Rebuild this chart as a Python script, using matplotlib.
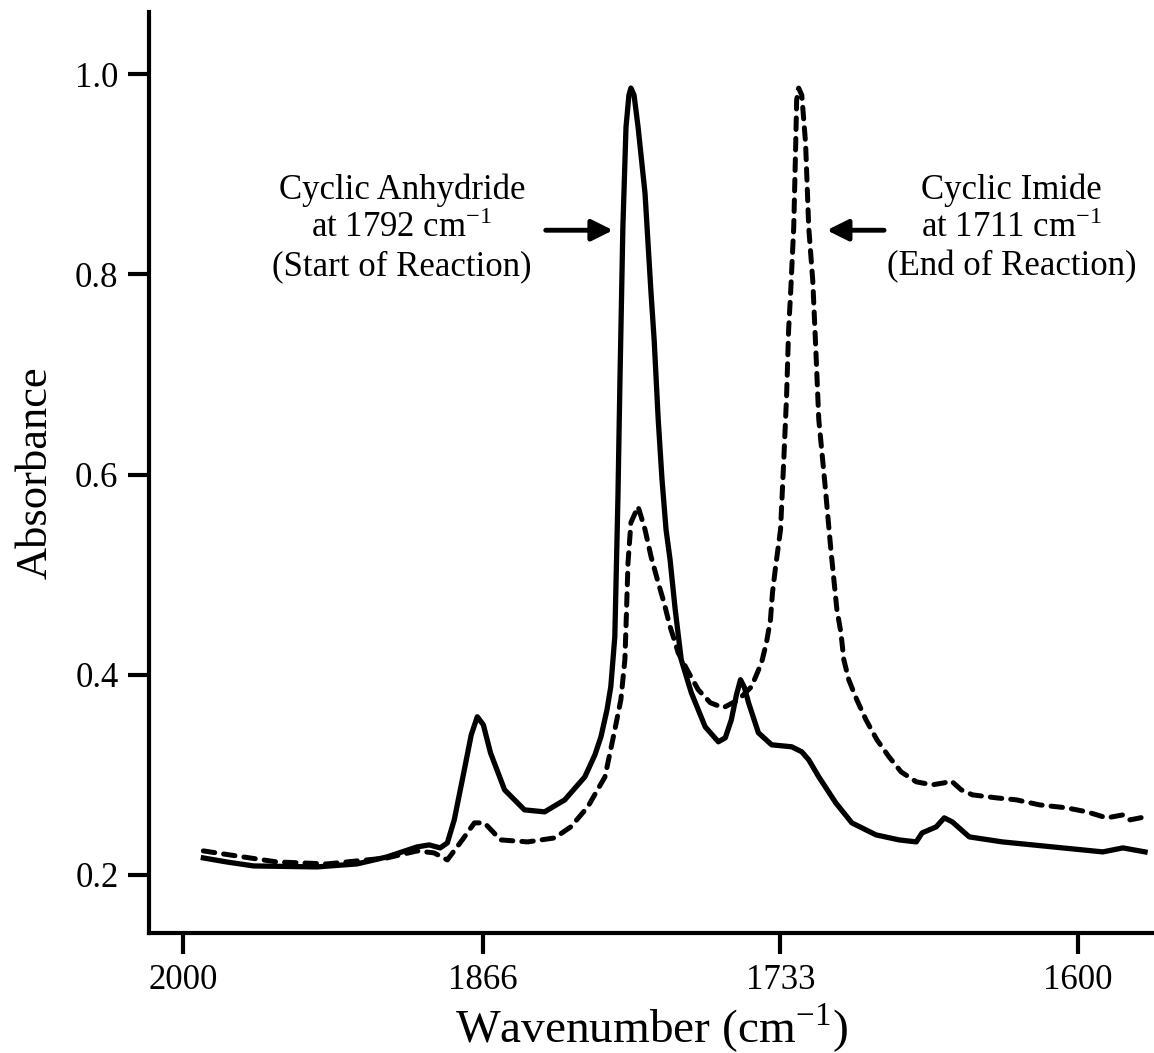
import matplotlib
matplotlib.use("Agg")
import matplotlib.pyplot as plt

plt.rcParams["font.family"] = ["Liberation Serif", "DejaVu Serif"]
plt.rcParams["mathtext.fontset"] = "stix"

# spectrum at start of reaction (solid line)
start_wn = [1991.0, 1980.7, 1968.6, 1940.3, 1922.3, 1908.9, 1895.4, 1890.0, 1885.1, 1881.9,
            1878.8, 1874.3, 1871.2, 1868.5, 1865.8, 1862.6, 1856.3, 1847.4, 1838.4, 1829.4,
            1820.4, 1815.9, 1813.2, 1810.5, 1808.8, 1807.0, 1805.6, 1804.7, 1803.4, 1802.0,
            1800.7, 1799.8, 1798.4, 1796.6, 1793.5, 1790.8, 1789.4, 1787.6, 1785.9, 1784.1,
            1782.3, 1780.0, 1777.3, 1772.8, 1766.6, 1760.7, 1757.6, 1754.9, 1752.6, 1750.8,
            1749.0, 1747.2, 1742.8, 1736.9, 1727.9, 1723.4, 1720.3, 1715.8, 1708.2, 1701.0,
            1690.2, 1679.9, 1672.2, 1669.6, 1663.3, 1659.7, 1656.1, 1648.5, 1633.7, 1611.2,
            1588.8, 1579.8, 1569.9]
start_abs = [0.217, 0.213, 0.209, 0.208, 0.211, 0.218, 0.228, 0.230, 0.227, 0.232,
             0.255, 0.305, 0.340, 0.358, 0.350, 0.322, 0.285, 0.265, 0.263, 0.275,
             0.298, 0.320, 0.338, 0.365, 0.388, 0.438, 0.578, 0.695, 0.847, 0.947,
             0.979, 0.986, 0.979, 0.947, 0.881, 0.781, 0.734, 0.655, 0.595, 0.545,
             0.515, 0.465, 0.415, 0.382, 0.348, 0.333, 0.337, 0.355, 0.380, 0.395,
             0.387, 0.372, 0.342, 0.330, 0.328, 0.323, 0.315, 0.298, 0.272, 0.252,
             0.240, 0.235, 0.233, 0.242, 0.248, 0.257, 0.253, 0.238, 0.233, 0.228,
             0.223, 0.227, 0.223]

# spectrum at end of reaction (dashed line)
end_wn = [1991.0, 1976.2, 1958.2, 1935.8, 1908.9, 1895.4, 1887.8, 1881.9, 1875.2, 1869.8,
          1865.3, 1858.1, 1846.0, 1833.9, 1826.7, 1819.1, 1811.4, 1807.0, 1804.3, 1802.5,
          1802.0, 1801.1, 1799.8, 1796.6, 1793.5, 1790.8, 1787.6, 1785.0, 1782.3, 1780.0,
          1778.7, 1774.2, 1769.7, 1764.3, 1758.5, 1751.7, 1745.9, 1741.4, 1739.2, 1737.4,
          1736.5, 1735.1, 1732.9, 1731.5, 1730.2, 1729.3, 1728.4, 1727.0, 1726.1, 1725.7,
          1724.8, 1723.4, 1721.7, 1720.3, 1718.5, 1717.2, 1715.8, 1713.1, 1710.4, 1707.7,
          1705.9, 1704.6, 1702.4, 1698.8, 1694.7, 1689.8, 1684.4, 1679.0, 1672.2, 1665.1,
          1659.7, 1656.6, 1652.1, 1647.1, 1636.4, 1627.4, 1617.1, 1604.9, 1595.9, 1587.0,
          1579.8, 1576.6, 1569.9]
end_abs = [0.224, 0.219, 0.213, 0.211, 0.217, 0.224, 0.222, 0.215, 0.235, 0.252,
           0.252, 0.235, 0.233, 0.237, 0.248, 0.268, 0.298, 0.345, 0.375, 0.415,
           0.448, 0.512, 0.552, 0.568, 0.545, 0.518, 0.492, 0.472, 0.448, 0.432,
           0.422, 0.403, 0.385, 0.372, 0.367, 0.375, 0.388, 0.412, 0.432, 0.455,
           0.482, 0.508, 0.545, 0.612, 0.678, 0.744, 0.781, 0.847, 0.931, 0.974,
           0.986, 0.979, 0.931, 0.847, 0.794, 0.729, 0.655, 0.592, 0.525, 0.465,
           0.442, 0.415, 0.395, 0.375, 0.355, 0.335, 0.318, 0.303, 0.293, 0.290,
           0.292, 0.294, 0.285, 0.280, 0.277, 0.275, 0.270, 0.267, 0.263, 0.257,
           0.260, 0.255, 0.258]

x_ticks = [2000, 1866, 1733, 1600]
y_ticks = [0.2, 0.4, 0.6, 0.8, 1.0]

fig = plt.figure(figsize=(11.54, 10.53), dpi=100)
ax = fig.add_axes([149 / 1154, 120 / 1053, 1005 / 1154, 921 / 1053])

ax.plot(start_wn, start_abs, color="black", lw=3.8, solid_joinstyle="round")
ax.plot(end_wn, end_abs, color="black", lw=3.6, linestyle=(0, (2.3, 1.8)),
        dash_capstyle="round")

ax.set_xlim(2015.3, 1565.9)
ax.set_ylim(0.142, 1.062)
ax.set_xticks(x_ticks)
ax.set_xticklabels([str(t) for t in x_ticks])
ax.set_yticks(y_ticks)
ax.set_yticklabels([f"{t:.1f}" for t in y_ticks])

for side in ["top", "right"]:
    ax.spines[side].set_visible(False)
for side in ["left", "bottom"]:
    ax.spines[side].set_linewidth(3)
ax.tick_params(direction="out", length=15, width=3, labelsize=25, pad=7)

ax.set_xlabel(r"Wavenumber (cm$^{\mathregular{-1}}$)", fontsize=34, labelpad=4)
ax.set_ylabel("Absorbance", fontsize=32, labelpad=14)

txt_kw = dict(ha="center", va="center", fontsize=25, linespacing=1.2)
ax.text(1902.1, 0.846,
        "Cyclic Anhydride\nat 1792 cm$^{\\mathregular{-1}}$\n(Start of Reaction)", **txt_kw)
ax.text(1629.6, 0.846,
        "Cyclic Imide\nat 1711 cm$^{\\mathregular{-1}}$\n(End of Reaction)", **txt_kw)

arrow_kw = dict(arrowstyle="-|>", lw=3.5, color="black", mutation_scale=32,
                shrinkA=0, shrinkB=0)
ax.annotate("", xy=(1807.8, 0.844), xytext=(1837.9, 0.844), arrowprops=arrow_kw)
ax.annotate("", xy=(1712.2, 0.844), xytext=(1686.6, 0.844), arrowprops=arrow_kw)

fig.savefig("out.png", dpi=100)
